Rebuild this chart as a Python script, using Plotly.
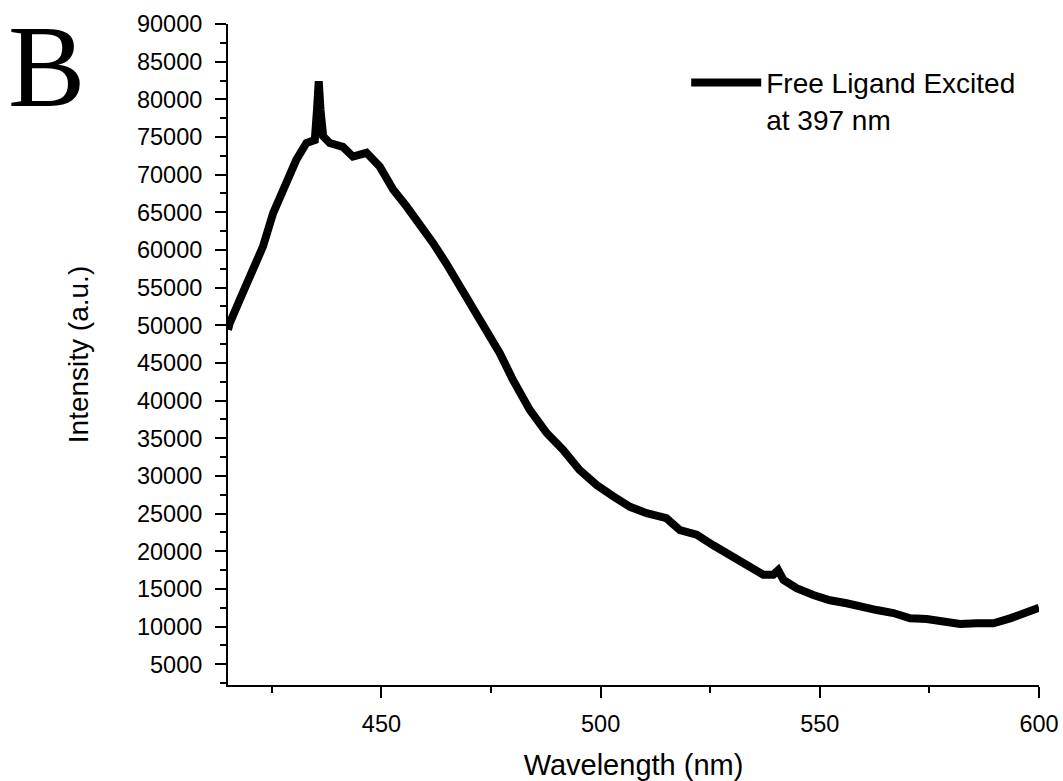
import plotly.graph_objects as go

# Emission spectrum
wavelength_nm = [415.0, 415.4, 417.7, 420.7, 423.0, 425.3, 428.3, 430.6, 432.9, 434.8,
                 435.3, 435.7, 436.1, 436.7, 438.2, 441.2, 443.5, 446.6, 449.6, 452.7,
                 455.7, 458.7, 461.8, 464.8, 467.9, 470.9, 474.0, 477.0, 480.0, 483.8,
                 487.7, 491.4, 495.2, 499.1, 502.9, 506.7, 510.5, 515.0, 518.1, 521.9,
                 525.7, 529.5, 533.3, 537.1, 539.4, 540.5, 541.7, 544.7, 548.5, 552.3,
                 556.1, 559.9, 563.0, 566.8, 570.6, 574.4, 578.2, 582.0, 585.8, 589.6,
                 593.4, 597.2, 599.5, 600.0]
intensity = [49400, 50300, 53400, 57400, 60500, 64900, 69300, 72000, 74200, 74600,
             78600, 82400, 78600, 75100, 74200, 73700, 72400, 72900, 71100, 68000,
             65800, 63600, 60900, 58200, 55200, 52000, 49400, 46300, 42750, 38800,
             35700, 33500, 30800, 28800, 27300, 25900, 25050, 24400, 22800, 22200,
             20800, 19500, 18200, 16900, 16900, 17500, 16200, 15100, 14200, 13500,
             13100, 12500, 12200, 11800, 11100, 11000, 10700, 10350, 10450, 10450,
             11100, 11800, 12450, 12500]

series_name = "Free Ligand Excited<br>at 397 nm"
x_title = "Wavelength (nm)"
y_title = "Intensity (a.u.)"
panel_label = "B"

FONT = "Liberation Sans, Arial, Helvetica, sans-serif"

fig = go.Figure()
fig.add_trace(go.Scatter(
    x=wavelength_nm, y=intensity, mode="lines", name=series_name,
    line=dict(color="black", width=8),
))

axis_common = dict(
    showgrid=False, zeroline=False, showline=True, linecolor="black", linewidth=2,
    ticks="outside", ticklen=11, tickwidth=2, tickcolor="black",
    tickfont=dict(family=FONT, size=23.5, color="black"),
    mirror=False, tickformat="d",
)

fig.update_xaxes(
    range=[415, 600], tickmode="linear", tick0=450, dtick=50,
    minor=dict(ticks="outside", dtick=25, tick0=0, ticklen=6, tickwidth=2, tickcolor="black"),
    title=dict(text=x_title, font=dict(family=FONT, size=29, color="black"), standoff=18),
    ticklabelstandoff=6,
    **axis_common,
)
fig.update_yaxes(
    range=[2250, 90000], tickmode="linear", tick0=5000, dtick=5000,
    minor=dict(ticks="outside", dtick=2500, tick0=0, ticklen=6, tickwidth=2, tickcolor="black"),
    title=dict(text=y_title, font=dict(family=FONT, size=28, color="black"), standoff=40),
    ticklabelstandoff=8,
    **axis_common,
)

fig.add_annotation(
    text=panel_label, xref="paper", yref="paper", x=-0.274, y=1.035,
    xanchor="left", yanchor="top", showarrow=False,
    font=dict(family="Liberation Serif, Times New Roman, serif", size=116, color="black"),
)

fig.update_layout(
    width=1063, height=781,
    margin=dict(l=228, r=24, t=24, b=96, autoexpand=False),
    paper_bgcolor="white", plot_bgcolor="white",
    showlegend=True,
    legend=dict(
        x=0.565, y=0.949, xanchor="left", yanchor="top",
        font=dict(family=FONT, size=28, color="black"),
        bgcolor="rgba(0,0,0,0)", valign="top", itemwidth=70,
        tracegroupgap=0,
    ),
)

fig.write_html("out.html")
